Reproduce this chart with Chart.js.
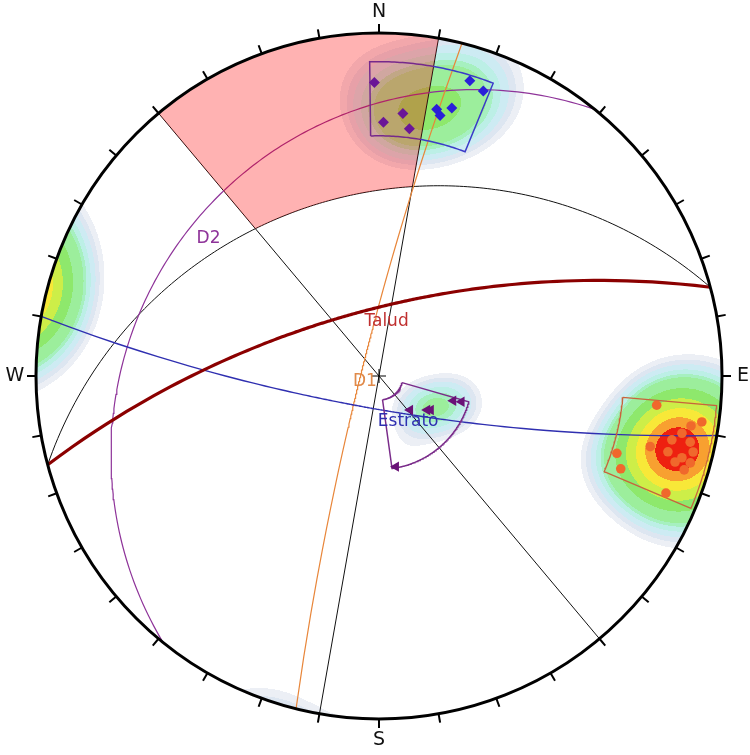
<!DOCTYPE html>
<html>
<head>
<meta charset="utf-8">
<script src="https://cdn.jsdelivr.net/npm/chart.js@4.4.0/dist/chart.umd.min.js"></script>
<style>
  html, body { margin: 0; padding: 0; background: #fff; }
  #wrap { width: 750px; height: 755px; position: relative; }
</style>
</head>
<body>
<div id="wrap"><canvas id="stereonet"></canvas></div>
<script>
// planes: dip direction / dip (degrees)
const planeNames = ['Talud', 'Estrato', 'D1', 'D2'];
const planeDipDir = [345, 190, 284, 309];
const planeDip = [68, 79, 84, 20];
const planeColors = ['#8b0000', '#2f2fb0', '#e8863a', '#8e3399'];
const labelColors = ['#c03030', '#2f2fb0', '#e08a4a', '#8e3399'];

// kinematic analysis (flexural toppling)
const slopeDipDir = 345;
const slipLimitDip = 34;
const lateralLimit = 25;

// poles: trend / plunge
const set1Trend = [359.1, 5.2, 1.0, 7.0, 12.2, 13.2, 15.2, 17.1, 20.1];
const set1Plunge = [8.9, 14.9, 17.0, 18.0, 13.0, 14.1, 12.0, 6.0, 7.0];

const set2Trend = [137.6, 125.2, 123.3, 108.4, 107.3, 169.4];
const set2Plunge = [74.7, 70.5, 69.5, 64.3, 61.7, 59.9];

const set3Trend = [96.0, 98.1, 99.1, 100.7, 104.6, 108.0, 111.0, 112.2,
                   102.3, 104.7, 106.2, 107.1, 105.6, 103.6, 102.0, 105.1];
const set3Plunge = [11.7, 2.9, 4.7, 6.1, 11.5, 17.8, 15.9, 5.8,
                    7.7, 7.9, 6.1, 4.1, 3.4, 3.4, 4.3, 5.1];

// set windows: trend from, trend to, plunge min, plunge max
const window1 = [358, 21.3, 5, 20];
const window2 = [106, 172, 59.5, 82];
const window3 = [95, 113, 0.7, 19];

const compassLabels = ['N', 'E', 'S', 'W'];

const D2R = Math.PI / 180;

// equal angle, lower hemisphere
function proj(trend, plunge) {
  const r = Math.tan((90 - plunge) * D2R / 2);
  return { x: r * Math.sin(trend * D2R), y: r * Math.cos(trend * D2R) };
}

function greatCircle(dipDir, dip) {
  const pts = [];
  for (let a = -90; a <= 90; a += 1) {
    const p = Math.atan(Math.tan(dip * D2R) * Math.cos(a * D2R)) / D2R;
    pts.push(proj(dipDir + a, p));
  }
  return pts;
}

function verticalPlane(strike) {
  return [proj(strike, 0), proj(strike + 180, 0)];
}

function windowShape(w) {
  let [t1, t2, pMin, pMax] = w;
  if (t2 < t1) t2 += 360;
  const pts = [];
  for (let t = t1; t <= t2 + 0.001; t += 0.5) pts.push(proj(t, pMax));
  for (let t = t2; t >= t1 - 0.001; t -= 0.5) pts.push(proj(t, pMin));
  pts.push(proj(t1, pMax));
  return pts;
}

function toppleZone() {
  const pts = [];
  const a1 = slopeDipDir - lateralLimit, a2 = slopeDipDir + lateralLimit;
  for (let a = a1; a <= a2; a += 0.5) pts.push(proj(a, 0));
  for (let a = a2; a >= a1; a -= 0.5) {
    const p = Math.atan(Math.tan(slipLimitDip * D2R) * Math.cos((a - slopeDipDir) * D2R)) / D2R;
    pts.push(proj(a, p));
  }
  pts.push(proj(a1, 0));
  return pts;
}

function poleVec(t, p) {
  return [Math.cos(p * D2R) * Math.sin(t * D2R), Math.cos(p * D2R) * Math.cos(t * D2R), Math.sin(p * D2R)];
}

const allPoles = [];
set1Trend.forEach((t, i) => allPoles.push(poleVec(t, set1Plunge[i])));
set2Trend.forEach((t, i) => allPoles.push(poleVec(t, set2Plunge[i])));
set3Trend.forEach((t, i) => allPoles.push(poleVec(t, set3Plunge[i])));

// contour palette (fraction of peak density)
const levels = [0.11, 0.14, 0.17, 0.21, 0.25, 0.28, 0.40, 0.53, 0.66, 0.78, 0.89];
const levelColors = ['#eceff5', '#dde6f1', '#cdebf3', '#bcefe6', '#a6f0c0', '#9cee9c',
                     '#8ee86c', '#cdee48', '#f8e838', '#f8a030', '#ee2010'];
const kappa = 60;

function hexRgb(h) {
  return [parseInt(h.substr(1, 2), 16), parseInt(h.substr(3, 2), 16), parseInt(h.substr(5, 2), 16)];
}

function buildDensity(chart) {
  const ca = chart.chartArea;
  const sx = chart.scales.x, sy = chart.scales.y;
  const w = Math.round(ca.right - ca.left), h = Math.round(ca.bottom - ca.top);
  const vals = new Float32Array(w * h);
  let max = 0;
  for (let j = 0; j < h; j++) {
    const y = sy.getValueForPixel(ca.top + j + 0.5);
    for (let i = 0; i < w; i++) {
      const x = sx.getValueForPixel(ca.left + i + 0.5);
      const r = Math.sqrt(x * x + y * y);
      if (r > 1) { vals[j * w + i] = -1; continue; }
      const phi = 2 * Math.atan(r);
      const s = Math.sin(phi);
      const e = r > 0 ? s * x / r : 0, n = r > 0 ? s * y / r : 0, d = Math.cos(phi);
      let sum = 0;
      for (const v of allPoles) {
        const c = Math.abs(e * v[0] + n * v[1] + d * v[2]);
        sum += Math.exp(kappa * (c - 1));
      }
      vals[j * w + i] = sum;
      if (sum > max) max = sum;
    }
  }
  const cols = levelColors.map(hexRgb);
  const off = document.createElement('canvas');
  off.width = w; off.height = h;
  const octx = off.getContext('2d');
  const img = octx.createImageData(w, h);
  for (let k = 0; k < w * h; k++) {
    const v = vals[k] / max;
    let li = -1;
    for (let l = 0; l < levels.length; l++) if (v >= levels[l]) li = l;
    if (li < 0) continue;
    const c = cols[li];
    img.data[k * 4] = c[0]; img.data[k * 4 + 1] = c[1]; img.data[k * 4 + 2] = c[2]; img.data[k * 4 + 3] = 255;
  }
  octx.putImageData(img, 0, 0);
  return off;
}

const densityPlugin = {
  id: 'density',
  beforeDatasetsDraw(chart) {
    if (!chart.$density) chart.$density = buildDensity(chart);
    const ca = chart.chartArea;
    chart.ctx.drawImage(chart.$density, Math.round(ca.left), Math.round(ca.top));
  }
};

const netPlugin = {
  id: 'net',
  afterDatasetsDraw(chart) {
    const { ctx, scales } = chart;
    const cx = scales.x.getPixelForValue(0), cy = scales.y.getPixelForValue(0);
    const R = scales.x.getPixelForValue(1) - cx;
    ctx.save();
    // primitive
    ctx.strokeStyle = '#000';
    ctx.lineWidth = 3;
    ctx.beginPath();
    ctx.arc(cx, cy, R, 0, Math.PI * 2);
    ctx.stroke();
    // ticks every 10 degrees
    ctx.lineWidth = 2;
    for (let a = 0; a < 360; a += 10) {
      const s = Math.sin(a * D2R), c = Math.cos(a * D2R);
      ctx.beginPath();
      ctx.moveTo(cx + s * R, cy - c * R);
      ctx.lineTo(cx + s * (R + 9), cy - c * (R + 9));
      ctx.stroke();
    }
    // centre cross
    ctx.lineWidth = 1;
    ctx.beginPath();
    ctx.moveTo(cx - 7, cy); ctx.lineTo(cx + 7, cy);
    ctx.moveTo(cx, cy - 7); ctx.lineTo(cx, cy + 7);
    ctx.stroke();
    // compass letters
    ctx.fillStyle = '#111';
    ctx.font = '19px "DejaVu Sans"';
    ctx.textAlign = 'center';
    ctx.textBaseline = 'middle';
    const off = R + 21;
    compassLabels.forEach((lab, i) => {
      const a = i * 90 * D2R;
      ctx.fillText(lab, cx + Math.sin(a) * off, cy - Math.cos(a) * off);
    });
    // plane labels
    const labelPos = [[0.022, 0.158], [0.085, -0.134], [-0.041, -0.015], [-0.497, 0.402]];
    ctx.font = '17px "DejaVu Sans"';
    planeNames.forEach((name, i) => {
      ctx.fillStyle = labelColors[i];
      ctx.fillText(name, scales.x.getPixelForValue(labelPos[i][0]), scales.y.getPixelForValue(labelPos[i][1]));
    });
    ctx.restore();
  }
};

const lineSet = (data, color, width, order) => ({
  data, showLine: true, borderColor: color, borderWidth: width, pointRadius: 0,
  fill: false, tension: 0, order, clip: false
});

const datasets = [
  {
    data: toppleZone(), showLine: true, borderWidth: 0, pointRadius: 0,
    backgroundColor: 'rgba(255,0,0,0.3)', fill: 'shape', order: 0
  },
  {
    data: set1Trend.map((t, i) => proj(t, set1Plunge[i])),
    pointStyle: 'rectRot', pointRadius: 5.5, backgroundColor: '#2a20d8', borderWidth: 0, order: 1
  },
  {
    data: set2Trend.map((t, i) => proj(t, set2Plunge[i])),
    pointStyle: 'triangle', rotation: -90, pointRadius: 6, backgroundColor: '#6a1277', borderWidth: 0, order: 1
  },
  {
    data: set3Trend.map((t, i) => proj(t, set3Plunge[i])),
    pointStyle: 'circle', pointRadius: 4.8, backgroundColor: '#f0682c', borderWidth: 0, order: 1
  },
  lineSet(windowShape(window1), '#3b3bc8', 1.5, 2),
  lineSet(windowShape(window2), '#7a2c8a', 1.5, 2),
  lineSet(windowShape(window3), '#c8643c', 1.3, 2),
  lineSet(greatCircle(planeDipDir[0], planeDip[0]), planeColors[0], 3.2, 3),
  lineSet(greatCircle(planeDipDir[1], planeDip[1]), planeColors[1], 1.4, 3),
  lineSet(greatCircle(planeDipDir[2], planeDip[2]), planeColors[2], 1.2, 3),
  lineSet(greatCircle(planeDipDir[3], planeDip[3]), planeColors[3], 1.2, 3),
  lineSet(greatCircle(slopeDipDir, slipLimitDip), '#111', 1, 4),
  lineSet(verticalPlane(slopeDipDir - lateralLimit), '#111', 1, 4),
  lineSet(verticalPlane(slopeDipDir + lateralLimit), '#111', 1, 4)
];

new Chart(document.getElementById('stereonet'), {
  type: 'scatter',
  data: { datasets },
  options: {
    responsive: true,
    maintainAspectRatio: false,
    animation: false,
    events: [],
    layout: { padding: { left: 36, right: 28, top: 33, bottom: 36 } },
    scales: {
      x: { type: 'linear', min: -1, max: 1, display: false },
      y: { type: 'linear', min: -1, max: 1, display: false }
    },
    plugins: { legend: { display: false }, tooltip: { enabled: false } }
  },
  plugins: [densityPlugin, netPlugin]
});
</script>
</body>
</html>
